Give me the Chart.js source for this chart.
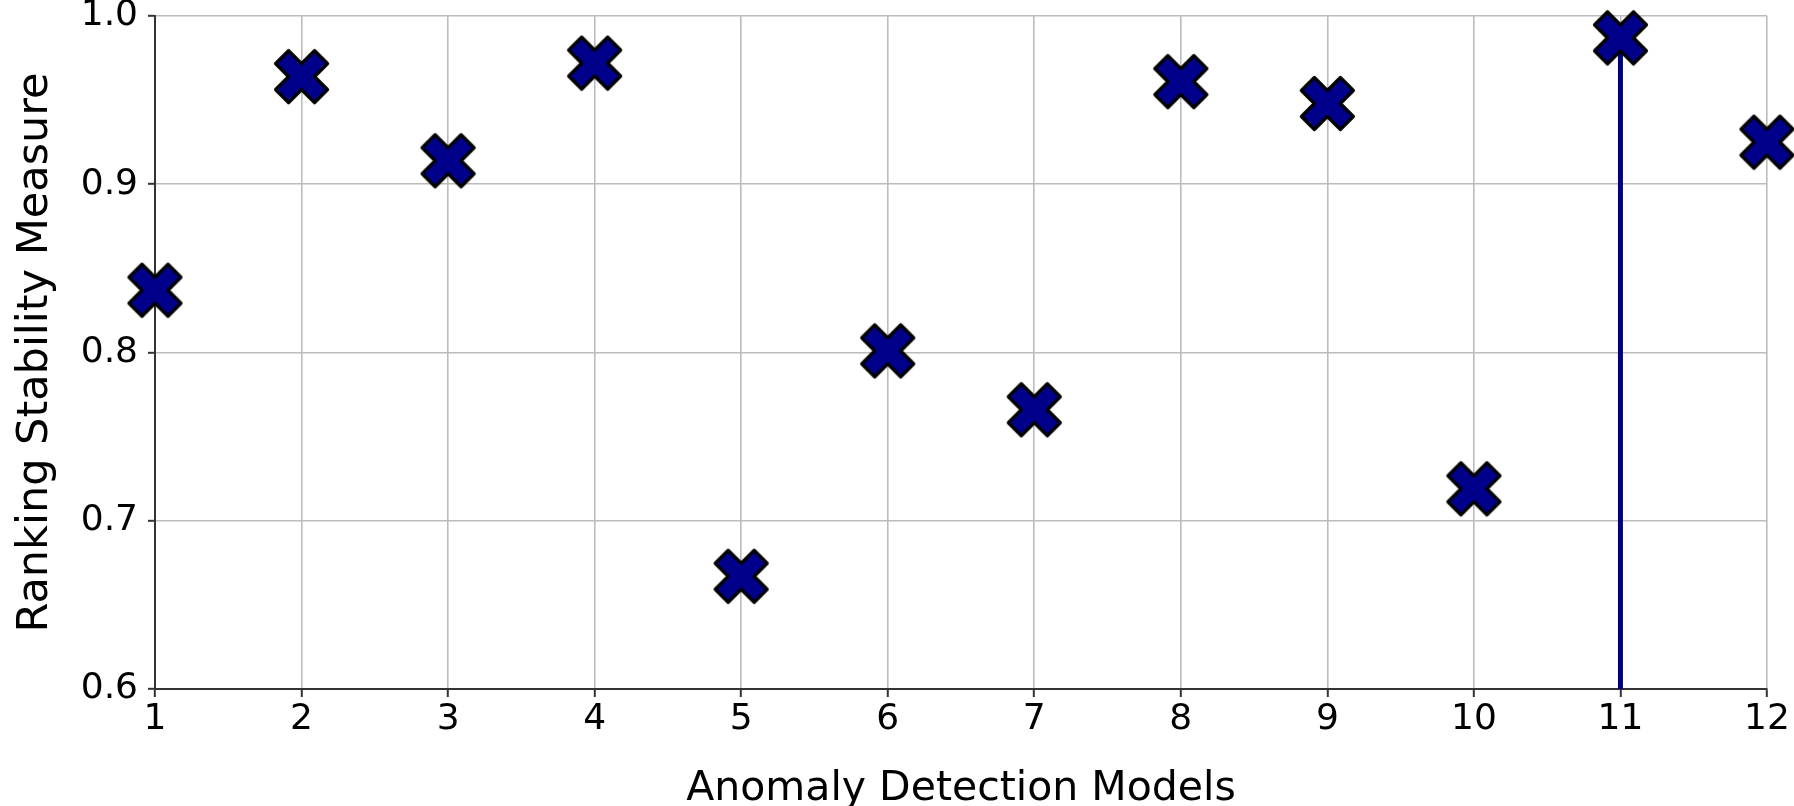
<!DOCTYPE html>
<html>
<head>
<meta charset="utf-8">
<script src="https://cdn.jsdelivr.net/npm/chart.js@4/dist/chart.umd.min.js"></script>
<style>
  html, body { margin: 0; padding: 0; background: #fff; }
  #wrap { width: 1794px; height: 806px; }
</style>
</head>
<body>
<div id="wrap"><canvas id="c" width="1794" height="806"></canvas></div>
<script>
// ---- data ----
const models = [1, 2, 3, 4, 5, 6, 7, 8, 9, 10, 11, 12];
const stability = [0.837, 0.964, 0.914, 0.972, 0.667, 0.801, 0.766, 0.961, 0.948, 0.719, 0.987, 0.925];
const highlightModel = 11;
const yTicks = [0.6, 0.7, 0.8, 0.9, 1.0];
const xLabel = 'Anomaly Detection Models';
const yLabel = 'Ranking Stability Measure';

// ---- marker (filled "X") ----
function makeX(size, stroke) {
  const dim = Math.ceil(size + 2 * stroke);
  const c = document.createElement('canvas');
  c.width = dim; c.height = dim;
  const ctx = c.getContext('2d');
  const u = size / 4, cx = dim / 2;
  const v = [[-1,-2],[0,-1],[1,-2],[2,-1],[1,0],[2,1],[1,2],[0,1],[-1,2],[-2,1],[-1,0],[-2,-1]];
  ctx.beginPath();
  v.forEach(([x, y], i) => i ? ctx.lineTo(cx + x * u, cx + y * u) : ctx.moveTo(cx + x * u, cx + y * u));
  ctx.closePath();
  ctx.fillStyle = '#00008b';
  ctx.fill();
  ctx.lineJoin = 'round';
  ctx.lineWidth = stroke;
  ctx.strokeStyle = '#000';
  ctx.stroke();
  return c;
}
const xMarker = makeX(52, 3.2);

const points = models.map((m, i) => ({ x: m, y: stability[i] }));
const hIdx = models.indexOf(highlightModel);
const vline = [{ x: highlightModel, y: yTicks[0] }, { x: highlightModel, y: stability[hIdx] }];

const font = 'DejaVu Sans';
const tickFont = { family: font, size: 36 };

new Chart(document.getElementById('c'), {
  type: 'scatter',
  data: {
    datasets: [
      {
        data: points,
        pointStyle: xMarker,
        pointRadius: 27,
        pointHoverRadius: 27,
        clip: false,
        order: 1
      },
      {
        data: vline,
        showLine: true,
        borderColor: '#000080',
        borderWidth: 5,
        pointRadius: 0,
        pointHoverRadius: 0,
        order: 2
      }
    ]
  },
  options: {
    responsive: false,
    animation: false,
    devicePixelRatio: 1,
    layout: { autoPadding: false, padding: { left: 0, right: 27, top: 16, bottom: 0 } },
    plugins: { legend: { display: false }, tooltip: { enabled: false } },
    scales: {
      x: {
        type: 'linear',
        min: models[0],
        max: models[models.length - 1],
        afterBuildTicks: (s) => { s.ticks = models.map(v => ({ value: v })); },
        ticks: { font: tickFont, color: '#000', padding: 1, maxRotation: 0, autoSkip: false,
                 callback: (v) => String(v) },
        grid: { color: '#bcbcbc', lineWidth: 1.6, tickColor: '#333', tickWidth: 2, tickLength: 8 },
        border: { display: true, color: '#333', width: 2 },
        title: { display: true, text: xLabel, font: { family: font, size: 41, lineHeight: 0.8 },
                 color: '#000', padding: { top: 0, bottom: 0 } },
        afterFit: (s) => { s.height = 117; s.paddingLeft = 0; s.paddingRight = 0; }
      },
      y: {
        type: 'linear',
        min: yTicks[0],
        max: yTicks[yTicks.length - 1],
        afterBuildTicks: (s) => { s.ticks = yTicks.map(v => ({ value: v })); },
        ticks: { font: tickFont, color: '#000', padding: 10, callback: (v) => Number(v).toFixed(1) },
        grid: { color: '#bcbcbc', lineWidth: 1.6, tickColor: '#333', tickWidth: 2, tickLength: 7 },
        border: { display: true, color: '#333', width: 2 },
        title: { display: true, text: yLabel, font: { family: font, size: 43 },
                 color: '#000', padding: { top: 10, bottom: 0 } },
        afterFit: (s) => { s.width = 155; s.paddingTop = 0; s.paddingBottom = 0; }
      }
    }
  }
});
</script>
</body>
</html>
